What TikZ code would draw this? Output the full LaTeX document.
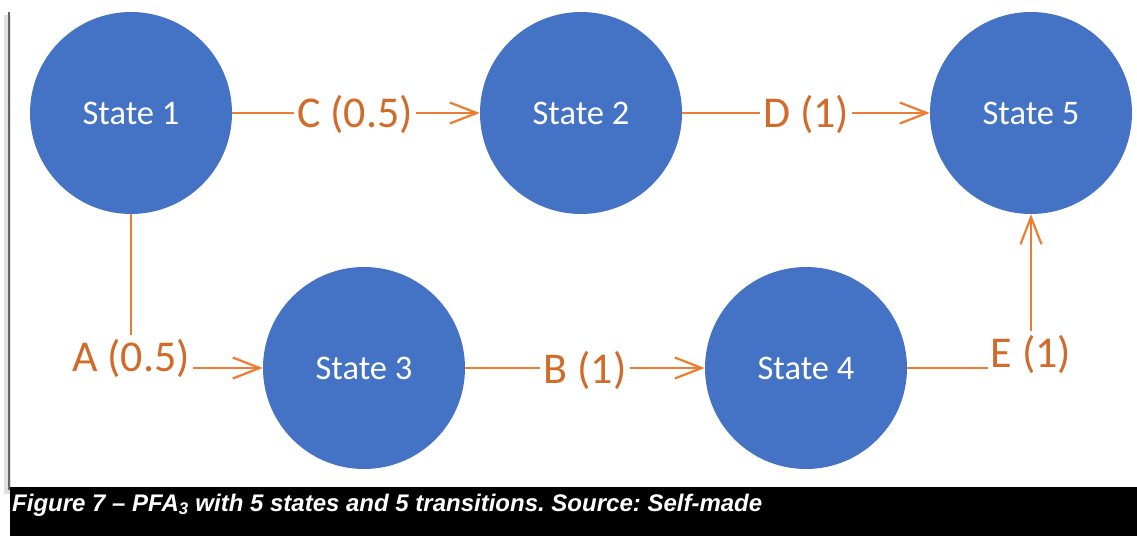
\documentclass[tikz,border=0pt]{standalone}
\usepackage{fontspec}
\usetikzlibrary{arrows.meta}
\newfontfamily\statefont{Carlito}
\newfontfamily\capfont[Ligatures=TeX]{Liberation Sans}
\definecolor{stateblue}{HTML}{4472C4}
\definecolor{edgeorange}{HTML}{ED7D31}
\definecolor{labelorange}{HTML}{D26B29}
\frenchspacing
\tikzset{
  state/.style={circle, fill=stateblue, minimum size=202pt, inner sep=0pt,
    text=white, font=\statefont\fontsize{34.5}{40}\selectfont},
  translabel/.style={inner xsep=3pt, inner ysep=4pt, text=labelorange,
    font=\statefont\fontsize{44}{50}\selectfont},
  edge/.style={draw=edgeorange, line width=2.2pt},
  arc/.style={edge, -{Straight Barb[length=27pt, width=21pt]}, line join=round}
}
\begin{document}
\begin{tikzpicture}[x=1pt, y=-1pt]
  \useasboundingbox (0,0) rectangle (1137,536);
  \fill[white] (0,0) rectangle (1137,536);
  % frame edge with its soft shadow
  \fill[black!12] (4,15) rectangle (11,494);
  \fill[black!60] (8,12) rectangle (10,490);
  % caption bar
  \fill[black] (10,487) rectangle (1137,536);
  \node[anchor=base west, inner sep=0pt, text=white,
        font=\capfont\bfseries\itshape\fontsize{24}{28}\selectfont]
        (caption) at (12,511)
        {Figure 7 – PFA\textsubscript{3} with 5 states and 5 transitions. Source: Self-made};

  % states
  \node[state] (s1) at (131,113) {State 1};
  \node[state] (s2) at (581,113) {State 2};
  \node[state] (s5) at (1031,113) {State 5};
  \node[state] (s3) at (364,368) {State 3};
  \node[state] (s4) at (806,368) {State 4};

  % transition labels
  \node[translabel, anchor=base] (lC) at (355,127) {C (0.5)};
  \node[translabel, anchor=base] (lD) at (806,127) {D (1)};
  \node[translabel, anchor=base] (lA) at (131,371) {A (0.5)};
  \node[translabel, anchor=base] (lB) at (585,383) {B (1)};
  \node[translabel, anchor=base] (lE) at (1031,367) {E (1)};

  % transitions
  \draw[edge] (s1.east) -- (lC.west |- s1.east);
  \draw[arc] (lC.east |- s2.west) -- (s2.west);
  \draw[edge] (s2.east) -- (lD.west |- s2.east);
  \draw[arc] (lD.east |- s5.west) -- (s5.west);
  \draw[edge] (s1.south) -- (lA.north);
  \draw[arc] (lA.east |- s3.west) -- (s3.west);
  \draw[edge] (s3.east) -- (lB.west |- s3.east);
  \draw[arc] (lB.east |- s4.west) -- (s4.west);
  \draw[edge] (s4.east) -- (lE.west |- s4.east);
  \draw[arc] (lE.north) -- (s5.south);
\end{tikzpicture}
\end{document}
